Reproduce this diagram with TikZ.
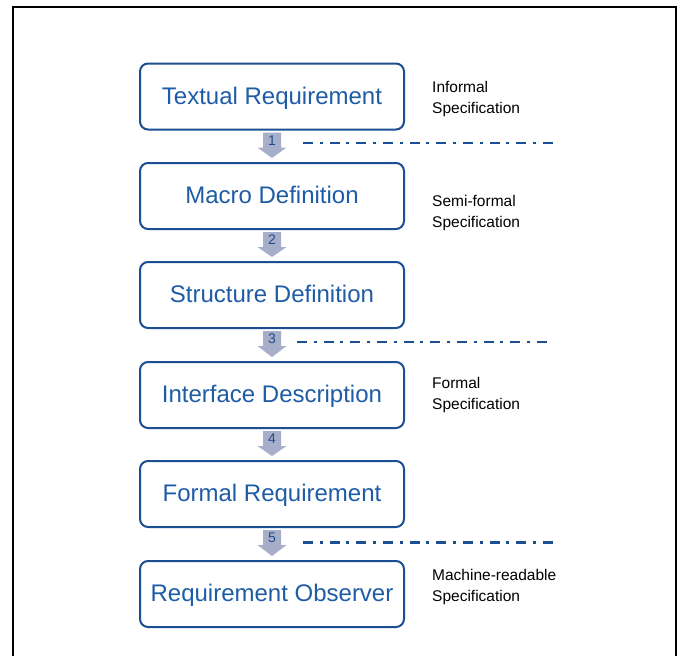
\documentclass[tikz,border=0pt]{standalone}
\usepackage{fontspec}
\setmainfont{Liberation Sans}
\usetikzlibrary{calc}

\definecolor{boxline}{HTML}{1C4F91}
\definecolor{boxtext}{HTML}{1F5CA6}
\definecolor{arrowfill}{HTML}{A7AEC9}
\definecolor{numtext}{HTML}{1F4E8C}

\tikzset{
  stage/.style={draw=boxline, line width=2pt, rounded corners=8pt, fill=white,
    minimum width=264pt, minimum height=66pt, inner sep=0pt,
    text=boxtext, font=\fontsize{24}{28}\selectfont,
    text height=20.5pt, text depth=5pt},
  sidelabel/.style={anchor=base west, align=left, inner sep=0pt,
    font=\fontsize{15.5}{21}\selectfont, text=black},
  steparrow/.style={fill=arrowfill, draw=none},
  stepnum/.style={text=numtext, font=\fontsize{14}{16}\selectfont, inner sep=0pt},
  levelline/.style={draw=boxline, line width=2.2pt,
    dash pattern=on 10pt off 6.83pt on 3pt off 6.83pt}
}

% block arrow hanging below the bottom edge of a stage box
\newcommand{\stagearrow}[3]{%
  \fill[steparrow]
    ($(#1.south)+(-9pt,-2pt)$) -- ($(#1.south)+(9pt,-2pt)$) --
    ($(#1.south)+(9pt,-17pt)$) -- ($(#1.south)+(14.5pt,-17pt)$) --
    ($(#2.north)+(0pt,4pt)$) --
    ($(#1.south)+(-14.5pt,-17pt)$) -- ($(#1.south)+(-9pt,-17pt)$) -- cycle;
  \node[stepnum] (n#3) at ($(#1.south)+(0pt,-10pt)$) {#3};
}

\begin{document}
\begin{tikzpicture}[x=1pt,y=-1pt]
\useasboundingbox[fill=white] (0,0) rectangle (686,656);

% outer frame, open at the bottom
\draw[black, line width=2pt] (13,662) -- (13,7) -- (676,7) -- (676,662);

% process stages
\node[stage] (s1) at (272,96.5) {Textual Requirement};
\node[stage] (s2) at (272,196)  {Macro Definition};
\node[stage] (s3) at (272,295)  {Structure Definition};
\node[stage] (s4) at (272,395)  {Interface Description};
\node[stage] (s5) at (272,494)  {Formal Requirement};
\node[stage] (s6) at (272,594)  {Requirement Observer};

% numbered steps between the stages
\stagearrow{s1}{s2}{1}
\stagearrow{s2}{s3}{2}
\stagearrow{s3}{s4}{3}
\stagearrow{s4}{s5}{4}
\stagearrow{s5}{s6}{5}

% level separators
\coordinate (l1a) at (303,143);
\coordinate (l1b) at (553,143);
\coordinate (l2a) at (297,342);
\coordinate (l2b) at (547,342);
\coordinate (l3a) at (303,542.5);
\coordinate (l3b) at (553,542.5);
\draw[levelline] (l1a) -- (l1b);
\draw[levelline] (l2a) -- (l2b);
\draw[levelline] (l3a) -- (l3b);

% specification levels (anchored at the baseline of the last line)
\node[sidelabel] (t1) at (432,113) {Informal\\Specification};
\node[sidelabel] (t2) at (432,227) {Semi-formal\\Specification};
\node[sidelabel] (t3) at (432,409) {Formal\\Specification};
\node[sidelabel] (t4) at (432,601) {Machine-readable\\Specification};
\end{tikzpicture}
\end{document}
